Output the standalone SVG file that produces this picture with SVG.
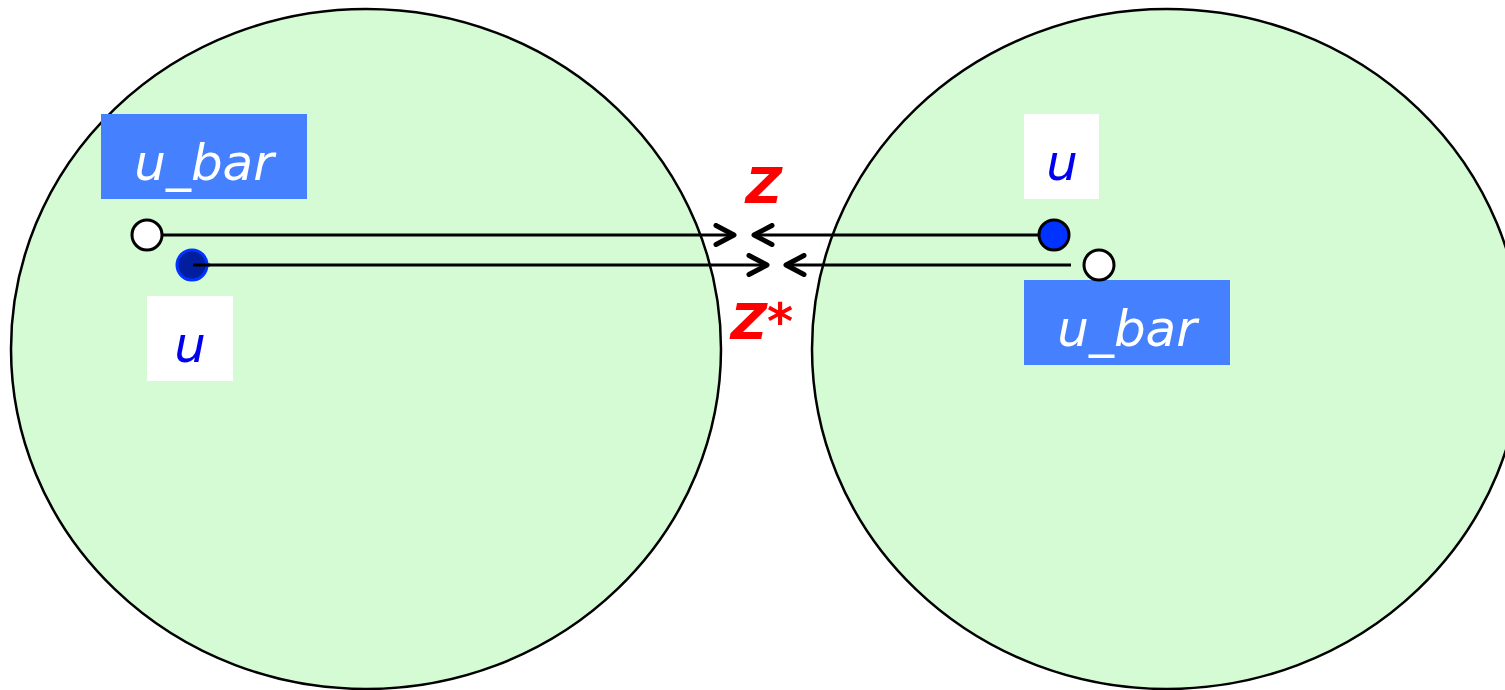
<svg xmlns="http://www.w3.org/2000/svg" width="1505" height="690" viewBox="0 0 1505 690">
<defs>
<marker id="chev" viewBox="0 0 24 24" markerWidth="24" markerHeight="24" refX="22" refY="12" orient="auto" markerUnits="userSpaceOnUse">
<path d="M3,2.5 L21,12 L3,21.5" fill="none" stroke="#000" stroke-width="5" stroke-linecap="round" stroke-linejoin="round"/>
</marker>
<style>
.region{fill:#D4FBD4;stroke:#000;stroke-width:2.5}
.conn{stroke:#000;stroke-width:3;fill:none;marker-end:url(#chev)}
.bluebox{fill:#4580FF}
.whitebox{fill:#fff}
.lbl{font-family:"DejaVu Sans","Liberation Sans",sans-serif;font-style:italic;font-size:50px;text-anchor:middle}
.white{fill:#fff}
.blue{fill:#0000EE}
.red{fill:#FF0000;font-weight:bold;font-size:50px}
.dot{stroke-width:3}
</style>
</defs>
<g id="region-left"><ellipse class="region" cx="366" cy="349" rx="355" ry="340"/></g>
<g id="region-right"><ellipse class="region" cx="1167" cy="349" rx="355" ry="340"/></g>
<g id="connectors">
<line class="conn" x1="162" y1="235" x2="735" y2="235"/>
<line class="conn" x1="193" y1="265" x2="768" y2="265"/>
<line class="conn" x1="1039" y1="235" x2="753" y2="235"/>
<line class="conn" x1="1071" y1="265" x2="785" y2="265"/>
</g>
<g id="left-ubar"><rect class="bluebox" x="101" y="114" width="206" height="85"/><text class="lbl white" x="204" y="180">u_bar</text></g>
<g id="left-u"><rect class="whitebox" x="147" y="296" width="86" height="85"/><text class="lbl blue" x="190" y="362">u</text></g>
<g id="left-open"><circle class="dot" cx="147" cy="235" r="15" fill="#fff" stroke="#000"/></g>
<g id="left-filled"><circle class="dot" cx="192" cy="265" r="15" fill="#001E9E" stroke="#0033FF"/><line x1="193" y1="265" x2="210" y2="265" stroke="#000" stroke-width="3"/></g>
<g id="right-u"><rect class="whitebox" x="1024" y="114" width="75" height="85"/><text class="lbl blue" x="1062" y="180">u</text></g>
<g id="right-ubar"><rect class="bluebox" x="1024" y="280" width="206" height="85"/><text class="lbl white" x="1127" y="346">u_bar</text></g>
<g id="right-filled"><circle class="dot" cx="1054" cy="235" r="15" fill="#0033FF" stroke="#000"/></g>
<g id="right-open"><circle class="dot" cx="1099" cy="265" r="15" fill="#fff" stroke="#000"/></g>
<g id="label-z"><text class="lbl red" x="764" y="203">Z</text></g>
<g id="label-zstar"><text class="lbl red" x="762" y="339">Z*</text></g>
</svg>
